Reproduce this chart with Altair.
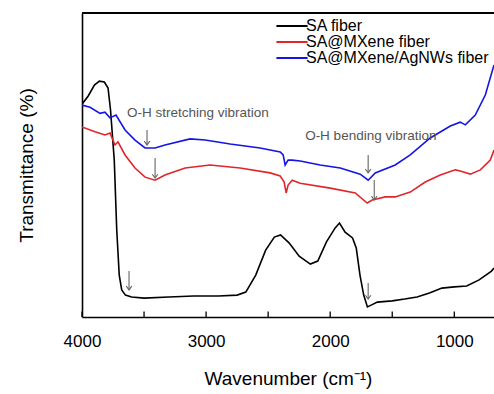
import altair as alt
import pandas as pd

# ---- data ----
sa_wn = [4000, 3950, 3900, 3860, 3820, 3790, 3770, 3740, 3720, 3700, 3680, 3650, 3600, 3500, 3300,
         3100, 2900, 2750, 2680, 2600, 2520, 2450, 2400, 2330, 2250, 2160, 2100, 2030, 1960, 1925,
         1880, 1820, 1790, 1760, 1730, 1700, 1670, 1620, 1500, 1400, 1300, 1200, 1100, 1000, 900,
         800, 700, 680]
sa_val = [70, 72.7, 76.3, 77.6, 77.3, 75.3, 68, 51.6, 28.6, 13.8, 8.9, 7.2, 6.6, 6.2, 6.6,
          6.9, 6.9, 7.2, 8.2, 13.8, 22, 26.3, 27, 24.3, 20, 17.4, 18.4, 24.7, 29.3, 30.9,
          27.9, 26, 22.7, 13.8, 7.2, 3.3, 3.9, 4.9, 5.3, 5.9, 6.6, 7.9, 9.5, 9.9, 10.2,
          12.2, 15.1, 16.1]

mx_wn = [4000, 3895, 3815, 3774, 3734, 3710, 3653, 3573, 3492, 3411, 3331, 3169, 2968, 2726, 2484,
         2403, 2371, 2355, 2339, 2306, 2242, 2000, 1798, 1702, 1661, 1556, 1476, 1355, 1234, 1113,
         992, 952, 871, 790, 710, 680]
mx_val = [62.5, 60.9, 59.9, 60.5, 56.6, 57.6, 53.3, 49, 46, 45, 46.7, 49, 50, 49, 47.4,
          46.4, 44.4, 40.8, 43.4, 45, 44, 42.4, 40.8, 37.5, 38.5, 39.5, 39.5, 41.1, 44.4, 46.7,
          48.4, 48, 47, 48.4, 51.6, 54.9]

ag_wn = [4000, 3935, 3855, 3815, 3775, 3726, 3653, 3573, 3492, 3411, 3331, 3129, 3008, 2806, 2565,
         2403, 2379, 2363, 2339, 2306, 2242, 2081, 1919, 1758, 1694, 1637, 1476, 1355, 1194, 1032,
         952, 911, 831, 750, 680]
ag_val = [69.7, 69, 67, 67.4, 65.5, 66.4, 61.5, 58.2, 55.6, 55.6, 56.6, 58.6, 58.2, 56.9, 55.6,
          54.3, 53.3, 50, 51.6, 51.6, 51.3, 50, 49, 47, 45, 47.4, 50, 53.3, 58.9, 62.8,
          64.1, 63.2, 66.4, 73, 82.9]

series = ["SA fiber", "SA@MXene fiber", "SA@MXene/AgNWs fiber"]
colors = ["#000000", "#e0252b", "#1414e6"]

# arrows: wavenumber, top value, bottom value
arrow_wn = [3476, 3411, 1694, 1645, 3621, 1694]
arrow_top = [61.5, 52.3, 53.3, 45.1, 15.1, 11.2]
arrow_bot = [56.6, 45.7, 47.4, 38.5, 8.9, 5.9]

notes = ["O-H stretching vibration", "O-H bending vibration"]
note_wn = [3637, 2202]
note_val = [67.0, 59.5]

tick_vals = [4000, 3500, 3000, 2500, 2000, 1500, 1000]
label_vals = [4000, 3000, 2000, 1000]

XMIN, XMAX = 680, 4000

rows = []
for name, wn, val in [(series[0], sa_wn, sa_val), (series[1], mx_wn, mx_val), (series[2], ag_wn, ag_val)]:
    for w, v in zip(wn, val):
        rows.append({"series": name, "wn": w, "val": v})
df = pd.DataFrame(rows)

arrows = pd.DataFrame({"wn": arrow_wn, "top": arrow_top, "bot": arrow_bot})
notes_df = pd.DataFrame({"text": notes, "wn": note_wn, "val": note_val})
ticks_df = pd.DataFrame({"wn": tick_vals, "y0": [0.0] * len(tick_vals), "y1": [1.8] * len(tick_vals)})

FONT = "Liberation Sans"

xscale = alt.Scale(domain=[XMAX, XMIN], nice=False, zero=False)
yscale = alt.Scale(domain=[0, 100], nice=False, zero=False)

lines = alt.Chart(df).mark_line(strokeWidth=1.6, clip=True).encode(
    x=alt.X("wn:Q", scale=xscale,
            axis=alt.Axis(title="Wavenumber (cm⁻¹)", values=label_vals, format="d",
                          tickSize=0, labelFontSize=17, titleFontSize=19, labelFlush=False,
                          labelColor="#000", titleColor="#000", titleFontWeight="normal",
                          labelPadding=16, titlePadding=20, domainColor="#000",
                          domainWidth=1.6, grid=False, labelFont=FONT, titleFont=FONT)),
    y=alt.Y("val:Q", scale=yscale,
            axis=alt.Axis(title="Transmittance (%)", labels=False, ticks=False, grid=False,
                          titleFontSize=19, titleFontWeight="normal", titleColor="#000",
                          titlePadding=46, domainColor="#000", domainWidth=1.6, titleFont=FONT)),
    color=alt.Color("series:N", scale=alt.Scale(domain=series, range=colors),
                    sort=series,
                    legend=alt.Legend(title=None, orient="none", legendX=202, legendY=5,
                                      symbolType="M -2.6 0 L 2.6 0", symbolSize=144,
                                      symbolStrokeWidth=2,
                                      labelFontSize=16, labelColor="#000", labelFont=FONT,
                                      labelLimit=0, rowPadding=0, labelOffset=6, padding=0)),
    order=alt.Order("wn:Q"),
)

tick_marks = alt.Chart(ticks_df).mark_rule(color="#000", strokeWidth=1.3).encode(
    x=alt.X("wn:Q", scale=xscale),
    y=alt.Y("y0:Q", scale=yscale), y2="y1:Q",
)

top_border = alt.Chart(ticks_df).mark_rule(color="#000", strokeWidth=1.6).encode(
    x=alt.value(0), x2=alt.value(412), y=alt.value(0),
)

arrow_shafts = alt.Chart(arrows).mark_rule(color="#666666", strokeWidth=1.1).encode(
    x=alt.X("wn:Q", scale=xscale), y=alt.Y("top:Q", scale=yscale), y2="bot:Q",
)
arrow_heads = alt.Chart(arrows).mark_point(
    shape="M -1 -1.4 L 0 0 L 1 -1.4", filled=False, color="#666666", size=30, strokeWidth=1.1, opacity=1
).encode(
    x=alt.X("wn:Q", scale=xscale), y=alt.Y("bot:Q", scale=yscale),
)

note_text = alt.Chart(notes_df).mark_text(
    align="left", baseline="middle", fontSize=13.5, color="#555555", font=FONT
).encode(
    x=alt.X("wn:Q", scale=xscale), y=alt.Y("val:Q", scale=yscale), text="text:N",
)

chart = alt.layer(lines, tick_marks, top_border, arrow_shafts, arrow_heads, note_text).properties(
    width=412, height=304,
    autosize=alt.AutoSizeParams(type="none"),
    padding={"left": 82, "top": 13, "right": 0, "bottom": 77},
).configure_view(stroke=None).configure(font=FONT)

chart.save("out.html", embed_options={"renderer": "svg", "actions": False})
